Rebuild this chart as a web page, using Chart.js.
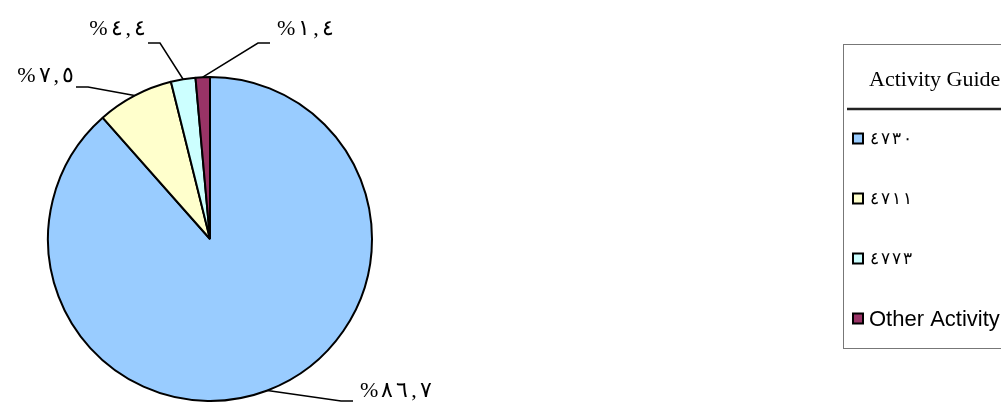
<!DOCTYPE html>
<html>
<head>
<meta charset="utf-8">
<script src="https://cdn.jsdelivr.net/npm/chart.js@4"></script>
<style>
  html, body { margin: 0; padding: 0; background: #fff; }
  canvas { display: block; }
</style>
</head>
<body>
<canvas id="chart" width="1001" height="402"></canvas>
<script>
/* global Chart */

const categories = ['٤٧٣٠', '٤٧١١', '٤٧٧٣', 'Other Activity']
const shares = [86.7, 7.5, 2.4, 1.4]
const shareLabels = ['%٨٦,٧', '%٧,٥', '%٤,٤', '%١,٤']
const legendTitle = 'Activity Guide'

const colors = ['#99ccff', '#ffffcc', '#ccffff', '#993366']

// leader line elbows, relative to the pie centre
const leaders = [
  { dx: 131, dy: 162, side: 1, ty: -10 },
  { dx: -122, dy: -152, side: -1, ty: -11 },
  { dx: -50, dy: -196, side: -1, ty: -14 },
  { dx: 48, dy: -196, side: 1, ty: -14 }
]

// draws glyphs one by one, left to right, with extra gap between them
const drawSpaced = (ctx, text, x, y, gap, align) => {
  const chars = [...text]
  const widths = chars.map(c => ctx.measureText(c).width)
  const total = widths.reduce((a, b) => a + b, 0) + gap * (chars.length - 1)
  let cx = align === 'right' ? x - total : x
  ctx.textAlign = 'left'
  chars.forEach((c, i) => {
    ctx.fillText(c, cx, y)
    cx += widths[i] + gap
  })
}

const pieLabels = {
  id: 'pieLabels',
  afterDatasetsDraw (chart) {
    const ctx = chart.ctx
    const meta = chart.getDatasetMeta(0)
    ctx.save()
    ctx.strokeStyle = '#000'
    ctx.lineWidth = 1.5
    ctx.fillStyle = '#000'
    ctx.font = '22px "Liberation Serif", "DejaVu Serif", serif'
    ctx.textBaseline = 'middle'
    meta.data.forEach((arc, i) => {
      const { x, y, startAngle, endAngle, outerRadius } = arc.getProps(['x', 'y', 'startAngle', 'endAngle', 'outerRadius'], true)
      const mid = (startAngle + endAngle) / 2
      const sx = x + Math.cos(mid) * outerRadius
      const sy = y + Math.sin(mid) * outerRadius
      const l = leaders[i]
      const ex = x + l.dx
      const ey = y + l.dy
      const px = ex + l.side * 12
      ctx.beginPath()
      ctx.moveTo(sx, sy)
      ctx.lineTo(ex, ey)
      ctx.lineTo(px, ey)
      ctx.stroke()
      if (l.side > 0) {
        drawSpaced(ctx, shareLabels[i], px + 7, ey + l.ty, 3, 'left')
      } else {
        drawSpaced(ctx, shareLabels[i], px - 2, ey + l.ty, 3, 'right')
      }
    })
    ctx.restore()
  }
}

const boxLegend = {
  id: 'boxLegend',
  afterDraw (chart) {
    const ctx = chart.ctx
    ctx.save()
    ctx.strokeStyle = '#777'
    ctx.lineWidth = 1
    ctx.strokeRect(843.5, 44.5, 220, 304)

    ctx.fillStyle = '#000'
    ctx.textBaseline = 'middle'
    ctx.textAlign = 'left'
    ctx.font = '22px "Liberation Serif", serif'
    ctx.fillText(legendTitle, 869, 80)

    ctx.strokeStyle = '#222'
    ctx.lineWidth = 2.5
    ctx.beginPath()
    ctx.moveTo(847, 109)
    ctx.lineTo(1001, 109)
    ctx.stroke()

    chart.data.labels.forEach((label, i) => {
      const cy = 138.5 + i * 60
      ctx.fillStyle = colors[i]
      ctx.fillRect(853, cy - 5, 10, 10)
      ctx.strokeStyle = '#000'
      ctx.lineWidth = 2
      ctx.strokeRect(853, cy - 5, 10, 10)
      ctx.fillStyle = '#000'
      if (/[A-Za-z]/.test(label)) {
        ctx.font = '22px "Liberation Sans", Arial, sans-serif'
        ctx.fillText(label, 869, cy + 1)
      } else {
        ctx.font = '17px "Liberation Serif", "DejaVu Serif", serif'
        drawSpaced(ctx, label, 870, cy + 1, 2, 'left')
      }
    })
    ctx.restore()
  }
}

new Chart(document.getElementById('chart'), {
  type: 'pie',
  data: {
    labels: categories,
    datasets: [{
      data: shares,
      backgroundColor: colors,
      borderColor: '#000',
      borderWidth: 2
    }]
  },
  options: {
    responsive: false,
    animation: false,
    layout: {
      padding: { left: 47, right: 628, top: 76, bottom: 0 }
    },
    plugins: {
      legend: { display: false },
      tooltip: { enabled: false }
    }
  },
  plugins: [pieLabels, boxLegend]
})
</script>
</body>
</html>
